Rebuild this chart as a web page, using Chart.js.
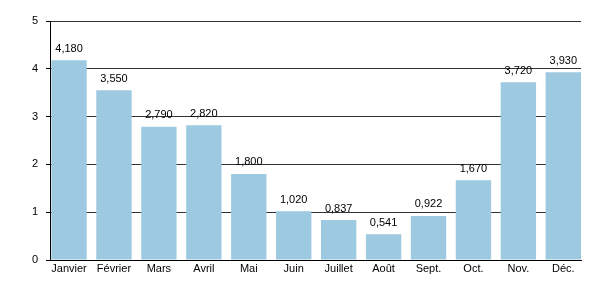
<!DOCTYPE html>
<html>
<head>
<meta charset="utf-8">
<script src="https://cdn.jsdelivr.net/npm/chart.js@4"></script>
<style>
  html, body { margin: 0; padding: 0; background: #fff; }
  #wrap { width: 600px; height: 300px; }
</style>
</head>
<body>
<div id="wrap"><canvas id="barChart" width="600" height="300"></canvas></div>
<script>
const months = ['Janvier', 'Février', 'Mars', 'Avril', 'Mai', 'Juin', 'Juillet', 'Août', 'Sept.', 'Oct.', 'Nov.', 'Déc.'];
const values = [4.18, 3.55, 2.79, 2.82, 1.8, 1.02, 0.837, 0.541, 0.922, 1.67, 3.72, 3.93];
const yTicks = [0, 1, 2, 3, 4, 5];

const barFill = '#9ecae1';
const barShare = 0.787;

Chart.defaults.font.family = '"Liberation Sans", Arial, sans-serif';
Chart.defaults.font.size = 11;
Chart.defaults.color = '#000';

// writes the value above each bar, french style (4,180)
const valueLabels = {
    id: 'valueLabels',
    afterDatasetsDraw(chart) {
        const ctx = chart.ctx;
        const meta = chart.getDatasetMeta(0);
        ctx.save();
        ctx.font = '11px "Liberation Sans", Arial, sans-serif';
        ctx.fillStyle = '#000';
        ctx.textAlign = 'center';
        ctx.textBaseline = 'bottom';
        meta.data.forEach((bar, i) => {
            ctx.fillText(values[i].toFixed(3).replace('.', ','), bar.x, bar.y - 6);
        });
        ctx.restore();
    }
};

const ctx = document.getElementById('barChart').getContext('2d');
new Chart(ctx, {
    type: 'bar',
    data: {
        datasets: [{
            data: values.map((v, i) => ({ x: i, y: v })),
            backgroundColor: barFill,
            borderWidth: 0,
            barPercentage: barShare,
            categoryPercentage: 1
        }]
    },
    options: {
        responsive: false,
        animation: false,
        layout: { padding: { top: 21, right: 19, left: 0, bottom: 0 } },
        plugins: { legend: { display: false }, tooltip: { enabled: false } },
        scales: {
            x: {
                type: 'linear',
                offset: false,
                min: -0.5 + (1 - barShare) / 2 - 0.03,
                max: months.length - 0.5 - (1 - barShare) / 2,
                grid: { display: false, offset: false, drawTicks: false, tickLength: 0 },
                border: { display: true, color: '#000', width: 1 },
                ticks: {
                    stepSize: 1,
                    includeBounds: false,
                    autoSkip: false,
                    maxRotation: 0,
                    padding: 2,
                    callback: (v) => months[v] ?? ''
                },
                afterFit: (scale) => { scale.height = 40; }
            },
            y: {
                min: yTicks[0],
                max: yTicks[yTicks.length - 1],
                grid: { color: '#333', lineWidth: 1, tickLength: 4, tickColor: '#000' },
                border: { display: true, color: '#000', width: 1 },
                ticks: { stepSize: 1, padding: 8 },
                afterFit: (scale) => { scale.width = 50; }
            }
        }
    },
    plugins: [valueLabels]
});
</script>
</body>
</html>
